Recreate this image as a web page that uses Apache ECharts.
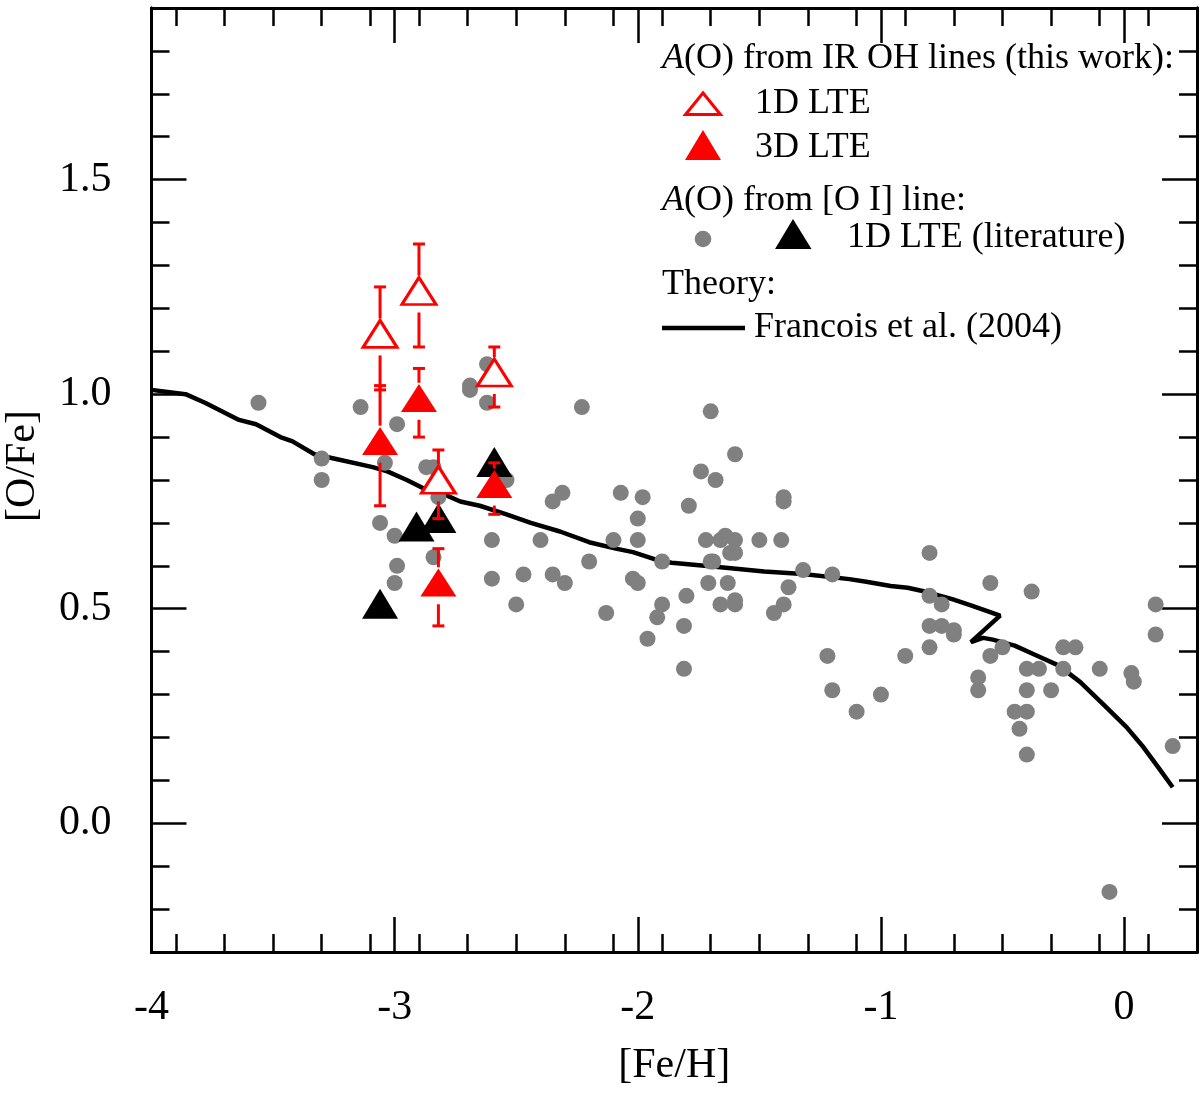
<!DOCTYPE html>
<html>
<head>
<meta charset="utf-8">
<script src="https://cdn.jsdelivr.net/npm/echarts@6/dist/echarts.min.js"></script>
<style>
html,body{margin:0;padding:0;background:#fff;}
#chart{width:1200px;height:1094px;}
</style>
</head>
<body>
<div id="chart"></div>
<script>
// ---------- DATA ----------
// [Fe/H], [O/Fe] : literature [O I] 1D LTE (grey dots)
const litDotsFeH = [-3.56,-3.30,-3.30,-3.14,-3.04,-2.99,-3.06,-3.00,-2.99,-3.00,-2.87,-2.84,-2.82,-2.84,-2.69,-2.69,-2.62,-2.62,-2.54,-2.60,-2.60,-2.50,-2.47,-2.40,-2.35,-2.31,-2.35,-2.30,-2.23,-2.20,-2.13,-2.10,-2.07,-1.98,-2.00,-2.00,-2.02,-2.00,-1.96,-1.92,-1.90,-1.90,-1.81,-1.81,-1.80,-1.79,-1.74,-1.70,-1.68,-1.60,-1.72,-1.66,-1.64,-1.60,-1.62,-1.60,-1.70,-1.69,-1.71,-1.63,-1.66,-1.60,-1.60,-1.50,-1.41,-1.40,-1.40,-1.32,-1.38,-1.40,-1.44,-1.20,-1.22,-1.20,-1.10,-1.00,-0.90,-0.80,-0.80,-0.75,-0.80,-0.75,-0.70,-0.70,-0.80,-0.55,-0.38,-0.50,-0.55,-0.60,-0.60,-0.40,-0.35,-0.40,-0.30,-0.45,-0.40,-0.43,-0.40,-0.25,-0.20,-0.25,-0.10,0.03,0.04,0.13,0.13,0.20,-0.06];
const litDotsOFe = [0.98,0.85,0.80,0.97,0.84,0.93,0.70,0.67,0.60,0.56,0.83,0.83,0.76,0.62,1.02,1.01,1.07,0.98,0.80,0.66,0.57,0.51,0.58,0.66,0.75,0.77,0.58,0.56,0.97,0.61,0.49,0.66,0.77,0.76,0.71,0.66,0.57,0.56,0.43,0.48,0.51,0.61,0.46,0.36,0.53,0.74,0.82,0.96,0.80,0.86,0.66,0.66,0.67,0.66,0.63,0.63,0.61,0.61,0.56,0.56,0.51,0.52,0.51,0.66,0.66,0.76,0.75,0.59,0.55,0.51,0.49,0.58,0.39,0.31,0.26,0.30,0.39,0.63,0.53,0.51,0.46,0.46,0.45,0.44,0.41,0.56,0.54,0.41,0.39,0.34,0.31,0.36,0.36,0.31,0.31,0.26,0.26,0.22,0.16,0.41,0.41,0.36,0.36,0.35,0.33,0.51,0.44,0.18,-0.16];

// literature [O I] 1D LTE, black triangles
const litTriFeH = [-3.06,-2.91,-2.82,-2.59];
const litTriOFe = [0.50,0.68,0.70,0.83];

// this work, IR OH lines
const ohFeH  = [-3.06,-2.90,-2.82,-2.59];
const oh1D   = [1.13,1.23,0.79,1.04];
const oh1DErr= [0.12,0.12,0.08,0.07];
const oh3D   = [0.88,0.98,0.55,0.78];
const oh3DErr= [0.14,0.08,0.09,0.06];

// Francois et al. (2004) model
const modelFeH = [-4.00,-3.86,-3.78,-3.64,-3.57,-3.47,-3.42,-3.33,-3.25,-3.09,-3.03,-2.95,-2.88,-2.81,-2.73,-2.65,-2.54,-2.44,-2.32,-2.20,-2.09,-2.02,-1.90,-1.86,-1.67,-1.48,-1.32,-1.13,-1.06,-0.96,-0.89,-0.82,-0.71,-0.63,-0.58,-0.51,-0.57,-0.63,-0.58,-0.54,-0.45,-0.36,-0.27,-0.18,-0.08,0.01,0.08,0.14,0.20];
const modelOFe = [1.01,1.00,0.98,0.94,0.93,0.90,0.89,0.86,0.85,0.83,0.82,0.80,0.78,0.77,0.75,0.74,0.72,0.70,0.68,0.655,0.64,0.632,0.61,0.607,0.597,0.587,0.581,0.569,0.563,0.553,0.549,0.540,0.523,0.508,0.498,0.484,0.453,0.422,0.432,0.428,0.414,0.391,0.368,0.329,0.274,0.224,0.177,0.131,0.084];

// axes
const xTickLabels = [-4,-3,-2,-1,0];
const yTickLabels = [0.0,0.5,1.0,1.5];
const xMin = -4, xMax = 0.3, yMin = -0.3, yMax = 1.9;

// ---------- BUILD ----------
const zipPts = (a,b) => a.map((v,i)=>[v,b[i]]);
const zipErr = (a,b,c) => a.map((v,i)=>[v,b[i],c[i]]);
const minorX = [], minorY = [];
for (let k = -39; k <= 2; k += 2) { const v = k/10; if (Math.abs(v - Math.round(v)) > 1e-6) minorX.push(+v.toFixed(1)); }
for (let k = -3; k <= 19; k++) { const v = k/10; if (Math.abs(v*2 - Math.round(v*2)) > 1e-6) minorY.push(+v.toFixed(1)); }

const FONT = 'Liberation Serif';
const RED = '#ff0000';
const LFS = 36;

function mkAxis(kind, pos, values, len, showLabel, extra) {
  const isX = kind === 'x';
  const a = {
    type: 'value', position: pos, gridIndex: 0,
    min: isX ? xMin : yMin, max: isX ? xMax : yMax,
    axisLine: { show: true, onZero: false, lineStyle: { color: '#000', width: 3 } },
    axisTick: { show: true, inside: true, length: len, customValues: values, lineStyle: { color: '#000', width: 2.5 } },
    axisLabel: { show: showLabel, customValues: values, fontFamily: FONT, fontSize: 42, color: '#000',
      margin: isX ? 35 : 40,
      formatter: isX ? (v => String(Math.round(v))) : (v => v.toFixed(1)) },
    splitLine: { show: false }
  };
  return Object.assign(a, extra || {});
}

const xAxes = [
  mkAxis('x','bottom', xTickLabels, 35, true, { name: '[Fe/H]', nameLocation: 'middle', nameGap: 93,
    nameTextStyle: { fontFamily: FONT, fontSize: 42, color: '#000' } }),
  mkAxis('x','bottom', minorX, 18, false),
  mkAxis('x','top', xTickLabels, 35, false),
  mkAxis('x','top', minorX, 18, false)
];
const yAxes = [
  mkAxis('y','left', yTickLabels, 35, true, { name: '[O/Fe]', nameLocation: 'middle', nameGap: 108,
    nameTextStyle: { fontFamily: FONT, fontSize: 42, color: '#000', padding: [0,0,0,28] } }),
  mkAxis('y','left', minorY, 18, false),
  mkAxis('y','right', yTickLabels, 35, false),
  mkAxis('y','right', minorY, 18, false)
];

function renderErr(params, api) {
  const x = api.value(0), y = api.value(1), e = api.value(2);
  const c = api.coord([x, y]);
  const t = api.coord([x, y + e]);
  const b = api.coord([x, y - e]);
  const cap = 6, gapT = 20, gapB = 17;
  const st = { stroke: RED, lineWidth: 3 };
  const ch = [];
  if (c[1] - gapT > t[1]) ch.push({ type: 'line', shape: { x1: c[0], y1: t[1], x2: c[0], y2: c[1] - gapT }, style: st });
  if (b[1] > c[1] + gapB) ch.push({ type: 'line', shape: { x1: c[0], y1: c[1] + gapB, x2: c[0], y2: b[1] }, style: st });
  ch.push({ type: 'line', shape: { x1: c[0] - cap, y1: t[1], x2: c[0] + cap, y2: t[1] }, style: st });
  ch.push({ type: 'line', shape: { x1: c[0] - cap, y1: b[1], x2: c[0] + cap, y2: b[1] }, style: st });
  return { type: 'group', children: ch };
}

// legend drawn as graphic glyphs + text
const txt = (x, y, text, rich) => ({
  type: 'text', x: x, y: y, silent: true,
  style: Object.assign({ text: text, fill: '#000', font: LFS + 'px "Liberation Serif"', fontSize: LFS, fontFamily: FONT,
    align: 'left', verticalAlign: 'middle' }, rich ? { rich: rich } : {})
});
const richA = {
  i: { fontStyle: 'italic', fontSize: LFS, fontFamily: FONT, fill: '#000' },
  n: { fontSize: LFS, fontFamily: FONT, fill: '#000' }
};
const legendGraphics = [
  txt(662, 59, '{i|A}{n|(O) from IR OH lines (this work):}', richA),
  { type: 'polygon', shape: { points: [[685.5,114.5],[720.5,114.5],[703,93]] }, style: { fill: '#fff', stroke: RED, lineWidth: 3 } },
  txt(755, 104, '1D LTE'),
  { type: 'polygon', shape: { points: [[685,160],[721,160],[703,130]] }, style: { fill: RED } },
  txt(755, 148, '3D LTE'),
  txt(662, 201, '{i|A}{n|(O) from [O I] line:}', richA),
  { type: 'circle', shape: { cx: 703, cy: 239, r: 8.3 }, style: { fill: '#808080' } },
  { type: 'polygon', shape: { points: [[775,249],[811.5,249],[793,219]] }, style: { fill: '#000' } },
  txt(847, 238, '1D LTE (literature)'),
  txt(662, 285, 'Theory:'),
  { type: 'line', shape: { x1: 662, y1: 328, x2: 745, y2: 328 }, style: { stroke: '#000', lineWidth: 4.5 } },
  txt(754, 328, 'Francois et al. (2004)')
];

const chart = echarts.init(document.getElementById('chart'), null, { renderer: 'canvas' });
chart.setOption({
  animation: false,
  backgroundColor: '#fff',
  grid: { left: 151.5, right: 3, top: 8, bottom: 142, containLabel: false, outerBoundsMode: 'none' },
  xAxis: xAxes,
  yAxis: yAxes,
  graphic: legendGraphics,
  series: [
    { name: 'Francois et al. (2004)', type: 'line', data: zipPts(modelFeH, modelOFe), showSymbol: false, symbol: 'none',
      lineStyle: { color: '#000', width: 4.5 }, z: 2 },
    { name: 'lit dots', type: 'scatter', data: zipPts(litDotsFeH, litDotsOFe), symbol: 'circle', symbolSize: 16,
      itemStyle: { color: '#808080', opacity: 1 }, z: 3 },
    { name: 'lit tri', type: 'scatter', data: zipPts(litTriFeH, litTriOFe), symbol: 'triangle', symbolSize: [36, 30],
      symbolOffset: [0, '-16.7%'], itemStyle: { color: '#000', opacity: 1 }, z: 4 },
    { name: 'err1D', type: 'custom', data: zipErr(ohFeH, oh1D, oh1DErr), renderItem: renderErr, z: 5 },
    { name: 'err3D', type: 'custom', data: zipErr(ohFeH, oh3D, oh3DErr), renderItem: renderErr, z: 5 },
    { name: '1D LTE', type: 'scatter', data: zipPts(ohFeH, oh1D), symbol: 'triangle', symbolSize: [34, 27],
      symbolOffset: [0, '-16.7%'], itemStyle: { color: '#fff', borderColor: RED, borderWidth: 3, opacity: 1 }, z: 6 },
    { name: '3D LTE', type: 'scatter', data: zipPts(ohFeH, oh3D), symbol: 'triangle', symbolSize: [36, 28],
      symbolOffset: [0, '-16.7%'], itemStyle: { color: RED, opacity: 1 }, z: 6 }
  ]
});
</script>
</body>
</html>
